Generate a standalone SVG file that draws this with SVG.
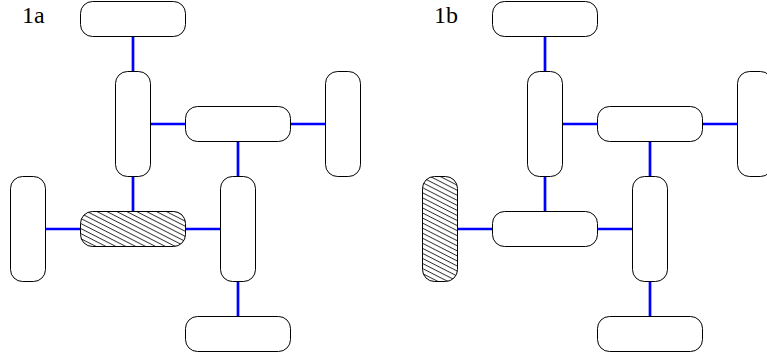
<svg xmlns="http://www.w3.org/2000/svg" width="767" height="360" viewBox="0 0 767 360">
<style>
.n{fill:#fff;stroke:#000;stroke-width:1}
.h{fill:url(#hatch);stroke:#000;stroke-width:1}
.c{stroke:#0000ff;stroke-width:2.7;fill:none}
.t{font-family:'Liberation Serif','Times New Roman',serif;font-size:24px;fill:#000}
</style>
<defs>
<pattern id="hatch" patternUnits="userSpaceOnUse" width="8" height="4.5" patternTransform="rotate(27)">
<rect width="8" height="4.5" fill="#fff"/>
<line x1="0" y1="0.5" x2="8" y2="0.5" stroke="#000" stroke-width="0.8"/>
</pattern>
</defs>
<g id="panel-a">
<g id="connectors-a">
<line class="c" x1="133" y1="36.5" x2="133" y2="71.5"/>
<line class="c" x1="150.5" y1="124" x2="185.5" y2="124"/>
<line class="c" x1="290.5" y1="124" x2="325.5" y2="124"/>
<line class="c" x1="238" y1="141.5" x2="238" y2="176.5"/>
<line class="c" x1="133" y1="176.5" x2="133" y2="211.5"/>
<line class="c" x1="45.5" y1="229" x2="80.5" y2="229"/>
<line class="c" x1="185.5" y1="229" x2="220.5" y2="229"/>
<line class="c" x1="238" y1="281.5" x2="238" y2="316.5"/>
</g>
<text class="t" x="22" y="23">1a</text>
<g id="a-top"><rect class="n" x="80.5" y="1.5" width="105" height="35" rx="12"/></g>
<g id="a-vleft"><rect class="n" x="115.5" y="71.5" width="35" height="105" rx="12"/></g>
<g id="a-hmid"><rect class="n" x="185.5" y="106.5" width="105" height="35" rx="12"/></g>
<g id="a-vright"><rect class="n" x="325.5" y="71.5" width="35" height="105" rx="12"/></g>
<g id="a-vouter"><rect class="n" x="10.5" y="176.5" width="35" height="105" rx="12"/></g>
<g id="a-hatched"><rect class="h" x="80.5" y="211.5" width="105" height="35" rx="12"/></g>
<g id="a-vlow"><rect class="n" x="220.5" y="176.5" width="35" height="105" rx="12"/></g>
<g id="a-bottom"><rect class="n" x="185.5" y="316.5" width="105" height="35" rx="12"/></g>
</g>
<g id="panel-b" transform="translate(412,0)">
<g id="connectors-b">
<line class="c" x1="133" y1="36.5" x2="133" y2="71.5"/>
<line class="c" x1="150.5" y1="124" x2="185.5" y2="124"/>
<line class="c" x1="290.5" y1="124" x2="325.5" y2="124"/>
<line class="c" x1="238" y1="141.5" x2="238" y2="176.5"/>
<line class="c" x1="133" y1="176.5" x2="133" y2="211.5"/>
<line class="c" x1="45.5" y1="229" x2="80.5" y2="229"/>
<line class="c" x1="185.5" y1="229" x2="220.5" y2="229"/>
<line class="c" x1="238" y1="281.5" x2="238" y2="316.5"/>
</g>
<text class="t" x="22" y="23">1b</text>
<g id="b-top"><rect class="n" x="80.5" y="1.5" width="105" height="35" rx="12"/></g>
<g id="b-vleft"><rect class="n" x="115.5" y="71.5" width="35" height="105" rx="12"/></g>
<g id="b-hmid"><rect class="n" x="185.5" y="106.5" width="105" height="35" rx="12"/></g>
<g id="b-vright"><rect class="n" x="325.5" y="71.5" width="35" height="105" rx="12"/></g>
<g id="b-vouter-hatched"><rect class="h" x="10.5" y="176.5" width="35" height="105" rx="12"/></g>
<g id="b-hlow"><rect class="n" x="80.5" y="211.5" width="105" height="35" rx="12"/></g>
<g id="b-vlow"><rect class="n" x="220.5" y="176.5" width="35" height="105" rx="12"/></g>
<g id="b-bottom"><rect class="n" x="185.5" y="316.5" width="105" height="35" rx="12"/></g>
</g>
</svg>
